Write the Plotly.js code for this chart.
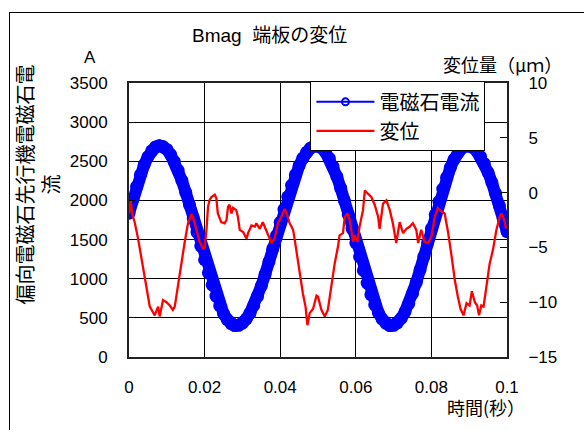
<!DOCTYPE html>
<html>
<head>
<meta charset="utf-8">
<script src="https://cdn.plot.ly/plotly-3.0.1.min.js"></script>
<style>
  html, body { margin: 0; padding: 0; background: #fff; overflow: hidden; }
  #wrap { position: relative; width: 584px; height: 430px; overflow: hidden; }
  #chart { position: absolute; left: 0; top: 0; width: 584px; height: 430px; }
  #frame { position: absolute; left: 9px; top: 12px; width: 640px; height: 500px;
           border: 1px solid #000; pointer-events: none; }
</style>
</head>
<body>
<div id="wrap">
  <div id="chart"></div>
  <div id="frame"></div>
</div>
<script>
// ---- data ----
const currentTime = [
  0.000,0.001,0.002,0.003,0.004,0.005,0.006,0.007,0.008,0.009,
  0.010,0.011,0.012,0.013,0.014,0.015,0.016,0.017,0.018,0.019,
  0.020,0.021,0.022,0.023,0.024,0.025,0.026,0.027,0.028,0.029,
  0.030,0.031,0.032,0.033,0.034,0.035,0.036,0.037,0.038,0.039,
  0.040,0.041,0.042,0.043,0.044,0.045,0.046,0.047,0.048,0.049,
  0.050,0.051,0.052,0.053,0.054,0.055,0.056,0.057,0.058,0.059,
  0.060,0.061,0.062,0.063,0.064,0.065,0.066,0.067,0.068,0.069,
  0.070,0.071,0.072,0.073,0.074,0.075,0.076,0.077,0.078,0.079,
  0.080,0.081,0.082,0.083,0.084,0.085,0.086,0.087,0.088,0.089,
  0.090,0.091,0.092,0.093,0.094,0.095,0.096,0.097,0.098,0.099,
  0.100
];
const currentA = [
  1836,2015,2178,2326,2454,2556,2633,2682,2700,
  2689,2651,2586,2496,2385,2252,2103,1942,1770,1595,1417,1242,1075,921,778,656,555,478,426,402,
  404,432,484,560,658,774,907,1056,1214,1380,1550,1720,1886,2046,2193,2326,2444,2540,2616,2668,2695,
  2698,2671,2617,2537,2431,2303,2156,1995,1820,1641,1459,1279,1105,944,797,669,563,482,429,402,
  405,436,493,576,682,809,954,1114,1284,1460,1640,1816,1986,2146,2292,2418,2525,2607,2664,2695,
  2698,2676,2630,2560,2469,2357,2229,2086,1931,1769,1600
];
const dispTime = [
  0.0000,0.00045,0.0008,0.0015,0.0024,0.0033,0.0042,0.0050,0.0055,0.0063,
  0.0068,0.0077,0.0081,0.0090,0.0099,0.0108,0.0116,0.0121,0.0130,0.0139,
  0.0147,0.0156,0.0165,0.0169,0.0178,0.0187,0.0196,0.0200,0.0205,0.0209,
  0.0213,0.0218,0.0227,0.0231,0.0235,0.0244,0.0253,0.0258,0.0262,0.0266,
  0.0271,0.0275,0.0284,0.0288,0.0293,0.0302,0.0311,0.0315,0.0324,0.0333,
  0.0337,0.0346,0.0354,0.0363,0.0372,0.0377,0.0385,0.0394,0.0403,0.0412,
  0.0418,0.0425,0.0430,0.0434,0.0438,0.0443,0.0452,0.0460,0.0467,0.0472,
  0.0478,0.0487,0.0496,0.0500,0.0509,0.0518,0.0526,0.0535,0.0544,0.0553,
  0.0557,0.0566,0.0571,0.0578,0.0584,0.0593,0.0597,0.0604,0.0610,0.0619,
  0.0624,0.0632,0.0641,0.0650,0.0659,0.0663,0.0672,0.0681,0.0690,0.0698,
  0.0707,0.0716,0.0725,0.0734,0.0743,0.0751,0.0760,0.0765,0.0773,0.0782,
  0.0791,0.0800,0.0809,0.0817,0.0826,0.0835,0.0844,0.0853,0.0862,0.0870,
  0.0877,0.0885,0.0893,0.0901,0.0907,0.0915,0.0921,0.0926,0.0932,0.0938,
  0.0946,0.0954,0.0963,0.0972,0.0981,0.0985,0.0991,0.0998
];
const dispUm = [
  -1.9,-0.7,-1.9,-2.7,-4.2,-5.9,-7.7,-9.2,-10.4,-10.9,
  -11.2,-10.4,-11.3,-9.8,-10.0,-10.3,-10.7,-10.4,-8.3,-6.5,
  -4.6,-2.8,-2.0,-2.2,-3.3,-4.5,-5.1,-5.0,-3.4,-1.3,
  -0.7,-0.4,-0.2,-0.5,-1.9,-2.7,-2.8,-2.5,-1.3,-1.1,
  -1.9,-1.4,-1.6,-2.2,-3.4,-3.6,-4.2,-3.7,-3.0,-3.1,
  -2.8,-3.3,-2.7,-3.4,-4.2,-4.6,-4.2,-2.8,-2.2,-1.5,
  -2.0,-2.8,-3.1,-3.4,-4.2,-5.5,-7.4,-9.2,-10.4,-12.1,
  -11.0,-10.6,-9.4,-9.5,-10.7,-11.3,-10.7,-8.6,-6.5,-4.9,
  -3.9,-3.7,-2.2,-1.9,-2.5,-4.5,-3.9,-4.5,-3.1,-1.6,
  0.2,-0.1,-0.4,-1.1,-2.2,-3.3,-1.0,-0.7,-1.6,-2.8,
  -4.6,-2.7,-3.7,-3.3,-3.1,-2.8,-3.4,-4.6,-3.4,-4.5,
  -4.6,-4.0,-2.2,-1.4,-1.7,-1.9,-3.6,-5.7,-8.0,-9.5,
  -10.6,-11.2,-10.1,-10.3,-9.0,-10.0,-10.3,-11.2,-10.3,-10.4,
  -8.3,-6.5,-5.2,-3.4,-2.2,-1.9,-2.3,-3.3
];
const seriesNames = ['電磁石電流', '変位'];
const xTicks = [0, 0.02, 0.04, 0.06, 0.08, 0.1];
const xTickText = ['0', '0.02', '0.04', '0.06', '0.08', '0.1'];

const FONT = 'Liberation Sans, Arial, Noto Sans CJK JP, sans-serif';
const CJK = 'Noto Sans CJK JP, Liberation Sans, sans-serif';

const traces = [
  { // thick band of overlapping markers
    x: currentTime, y: currentA, type: 'scatter', mode: 'lines+markers',
    line: { color: '#0000ff', width: 12 },
    marker: { color: '#0000ff', size: 13, symbol: 'circle' },
    showlegend: false, hoverinfo: 'skip', yaxis: 'y'
  },
  {
    x: currentTime, y: currentA, type: 'scatter', mode: 'lines+markers',
    name: seriesNames[0],
    line: { color: '#0000ff', width: 2 },
    marker: { color: '#0000ff', size: 7, symbol: 'circle-open', line: { width: 2, color: '#0000ff' } },
    yaxis: 'y'
  },
  {
    x: dispTime, y: dispUm, type: 'scatter', mode: 'lines',
    name: seriesNames[1],
    line: { color: '#ff0000', width: 2.3 },
    yaxis: 'y2'
  }
];

const layout = {
  width: 584, height: 430,
  margin: { l: 129, r: 77, t: 83, b: 73, pad: 0 },
  paper_bgcolor: '#fff', plot_bgcolor: '#fff',
  font: { family: FONT, color: '#000', size: 17 },
  showlegend: true,
  legend: {
    x: 0.48, y: 1.006, xanchor: 'left', yanchor: 'top',
    bgcolor: '#fff', bordercolor: '#000', borderwidth: 1,
    font: { family: CJK, size: 20, color: '#000' },
    itemwidth: 58, tracegroupgap: 0
  },
  xaxis: {
    range: [0, 0.1], tickmode: 'array', tickvals: xTicks, ticktext: xTickText,
    showgrid: true, gridcolor: '#000', gridwidth: 1,
    showline: true, linecolor: '#222', linewidth: 2, mirror: true,
    ticks: '', zeroline: false, ticklabelstandoff: 14,
    tickfont: { family: FONT, size: 17 }
  },
  yaxis: {
    range: [0, 3500], dtick: 500, tick0: 0,
    showgrid: true, gridcolor: '#000', gridwidth: 1,
    showline: true, linecolor: '#222', linewidth: 2,
    ticks: 'inside', ticklen: 6, tickcolor: '#000', zeroline: false,
    ticklabelstandoff: 16, tickfont: { family: FONT, size: 17 }
  },
  yaxis2: {
    range: [-15, 10], dtick: 5, tick0: -15, overlaying: 'y', side: 'right',
    showgrid: false, showline: true, linecolor: '#222', linewidth: 2,
    ticks: 'inside', ticklen: 7, tickcolor: '#000', zeroline: false,
    ticklabelstandoff: 16, tickfont: { family: FONT, size: 17 }
  },
  annotations: [
    { text: 'Bmag  端板の変位', xref: 'paper', yref: 'paper',
      x: (269 - 129) / 378, y: (357 - 35) / 274, xanchor: 'center', yanchor: 'middle',
      showarrow: false, font: { family: FONT, size: 19 } },
    { text: 'A', xref: 'paper', yref: 'paper',
      x: (90 - 129) / 378, y: (357 - 58) / 274, xanchor: 'center', yanchor: 'middle',
      showarrow: false, font: { family: FONT, size: 17 } },
    { text: '変位量（μｍ）', xref: 'paper', yref: 'paper',
      x: (502 - 129) / 378, y: (357 - 64) / 274, xanchor: 'center', yanchor: 'middle',
      showarrow: false, font: { family: CJK, size: 18 } },
    { text: '時間(秒）', xref: 'paper', yref: 'paper',
      x: (486 - 129) / 378, y: (357 - 407) / 274, xanchor: 'center', yanchor: 'middle',
      showarrow: false, font: { family: CJK, size: 18 } },
    { text: '偏向電磁石先行機電磁石電<br>流', xref: 'paper', yref: 'paper',
      x: (36.5 - 129) / 378, y: (357 - 185) / 274, xanchor: 'center', yanchor: 'middle',
      textangle: -90, showarrow: false, font: { family: CJK, size: 20 } }
  ]
};

Plotly.newPlot('chart', traces, layout, { staticPlot: true, displayModeBar: false });
</script>
</body>
</html>
